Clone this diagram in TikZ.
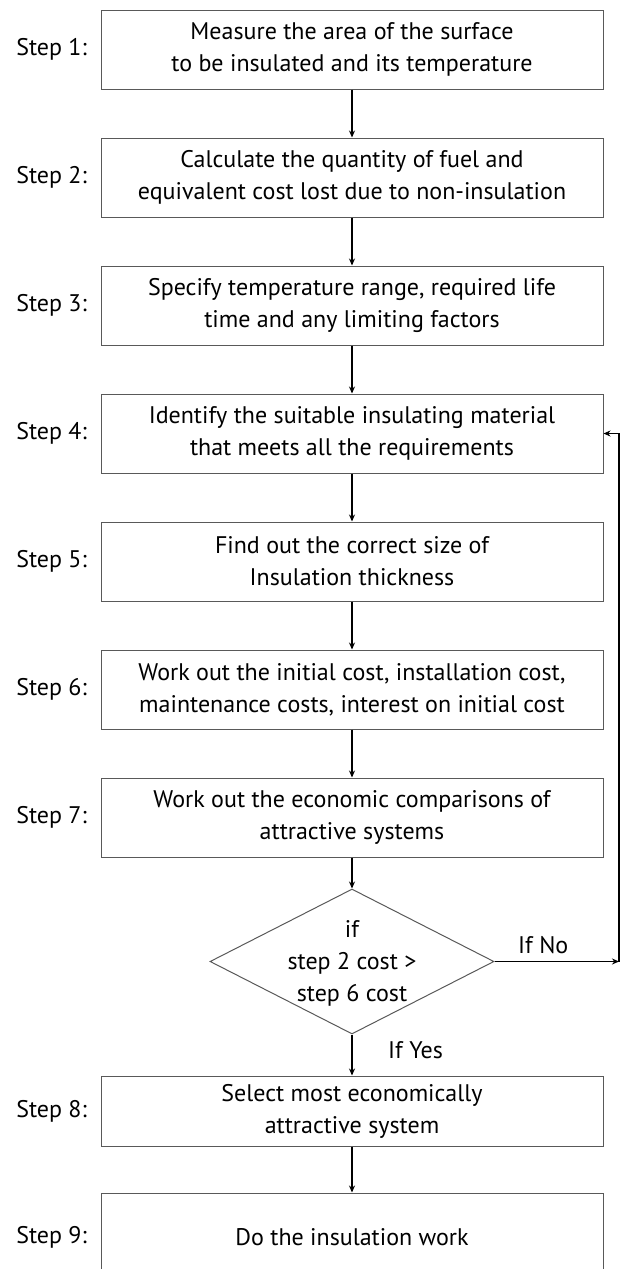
\documentclass[tikz,border=0pt]{standalone}
\usepackage{fontspec}
\setmainfont{PT Sans}
\usetikzlibrary{shapes.geometric,arrows.meta}
\begin{document}
\begin{tikzpicture}[x=1pt,y=-1pt,
  txt/.style={font=\fontsize{24}{32}\selectfont, align=center, inner sep=0pt},
  stepbox/.style={draw=black!65, line width=1pt, minimum width=502pt, minimum height=79pt, inner sep=0pt, align=center, font=\fontsize{24}{32}\selectfont},
  steplabel/.style={font=\fontsize{24}{32}\selectfont, anchor=east, inner sep=0pt},
  arr/.style={line width=1.8pt, -{Stealth[length=7pt,width=6pt]}},
  plain/.style={line width=1.8pt}]
\useasboundingbox (0,0) rectangle (621,1269);
\node[stepbox] (b1) at (352,49.5) {Measure the area of the surface\\to be insulated and its temperature};
\node[stepbox] (b2) at (352,177.5) {Calculate the quantity of fuel and\\equivalent cost lost due to non-insulation};
\node[stepbox] (b3) at (352,305.5) {Specify temperature range, required life\\time and any limiting factors};
\node[stepbox] (b4) at (352,433.5) {Identify the suitable insulating material\\that meets all the requirements};
\node[stepbox] (b5) at (352,561.5) {Find out the correct size of\\Insulation thickness};
\node[stepbox] (b6) at (352,689.5) {Work out the initial cost, installation cost,\\maintenance costs, interest on initial cost};
\node[stepbox] (b7) at (352,817.5) {Work out the economic comparisons of\\attractive systems};
\node[draw=black!65, line width=1pt, diamond, minimum width=284pt, minimum height=145pt, inner sep=0pt] (d) at (352,961.5) {};
\node[txt] (dt) at (352,963) {if\\step 2 cost >\\step 6 cost};
\node[stepbox, minimum height=70pt] (b8) at (352,1111) {Select most economically\\attractive system};
\node[stepbox, minimum height=88pt] (b9) at (352,1237) {Do the insulation work};
\foreach \i in {1,...,9} { \node[steplabel] (s\i) at (87,0 |- b\i.center) {Step \i:}; }
\draw[arr] (b1) -- (b2);
\draw[arr] (b2) -- (b3);
\draw[arr] (b3) -- (b4);
\draw[arr] (b4) -- (b5);
\draw[arr] (b5) -- (b6);
\draw[arr] (b6) -- (b7);
\draw[arr] (b7) -- (d.north);
\draw[arr] (d.south) -- (b8);
\draw[arr] (b8) -- (b9);
\coordinate (c1) at (619,961.5);
\draw[arr] (d.east) -- (c1);
\draw[arr] (c1) |- (b4.east);
\node[txt, anchor=west] (no) at (518,945) {If No};
\node[txt, anchor=west] (yes) at (388,1050) {If Yes};
\end{tikzpicture}
\end{document}
